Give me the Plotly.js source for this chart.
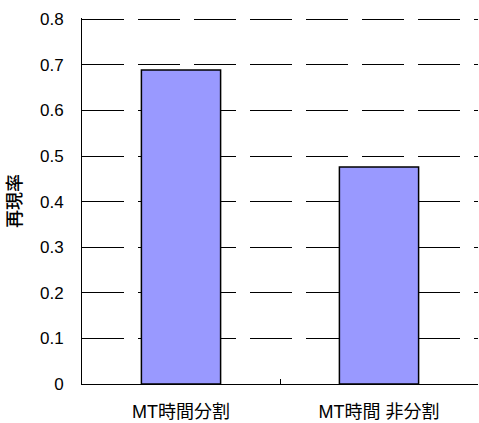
<!DOCTYPE html>
<html>
<head>
<meta charset="utf-8">
<script src="https://cdn.plot.ly/plotly-3.0.1.min.js"></script>
<style>
  html, body { margin: 0; padding: 0; background: #fff; }
  #chart { width: 479px; height: 423px; }
</style>
</head>
<body>
<div id="chart"></div>
<script>
// Recall rate for the two MT conditions
const categories = ["MT時間分割", "MT時間 非分割"];
const recallValues = [0.689, 0.476];
const yTickValues = [0, 0.1, 0.2, 0.3, 0.4, 0.5, 0.6, 0.7, 0.8];
const yTickLabels = ["0", "0.1", "0.2", "0.3", "0.4", "0.5", "0.6", "0.7", "0.8"];

const fontFamily = "'Liberation Sans', Arial, 'Noto Sans CJK JP', sans-serif";

const trace = {
  type: "bar",
  x: categories,
  y: recallValues,
  marker: { color: "#9999FF", line: { color: "#000000", width: 1.5 } },
  hoverinfo: "x+y"
};

const layout = {
  width: 479,
  height: 423,
  margin: { l: 82, r: 1, t: 18, b: 39 },
  paper_bgcolor: "#ffffff",
  plot_bgcolor: "#ffffff",
  showlegend: false,
  bargap: 0.6,
  font: { family: fontFamily, color: "#000000", size: 16 },
  xaxis: {
    type: "category",
    showline: true,
    linecolor: "#000000",
    linewidth: 1,
    ticks: "inside",
    tickson: "boundaries",
    ticklen: 5,
    tickcolor: "#000000",
    showgrid: false,
    tickfont: { family: fontFamily, size: 18, color: "#000000" },
    ticklabelstandoff: 11,
    fixedrange: true
  },
  yaxis: {
    // slightly above 0.8 so the top gridline is not clipped at the edge
    range: [0, 0.803],
    tickvals: yTickValues,
    ticktext: yTickLabels,
    showline: true,
    linecolor: "#000000",
    linewidth: 1,
    ticks: "",
    showgrid: true,
    gridcolor: "#000000",
    gridwidth: 1,
    griddash: "42px,14px",
    zeroline: false,
    tickfont: { family: fontFamily, size: 17, color: "#000000" },
    ticklabelstandoff: 14,
    title: {
      text: "再現率",
      font: { family: "'Noto Sans CJK JP', sans-serif", size: 18, color: "#000000", weight: 500 },
      standoff: 18
    },
    fixedrange: true
  }
};

Plotly.newPlot("chart", [trace], layout, { displayModeBar: false, staticPlot: true });
</script>
</body>
</html>
